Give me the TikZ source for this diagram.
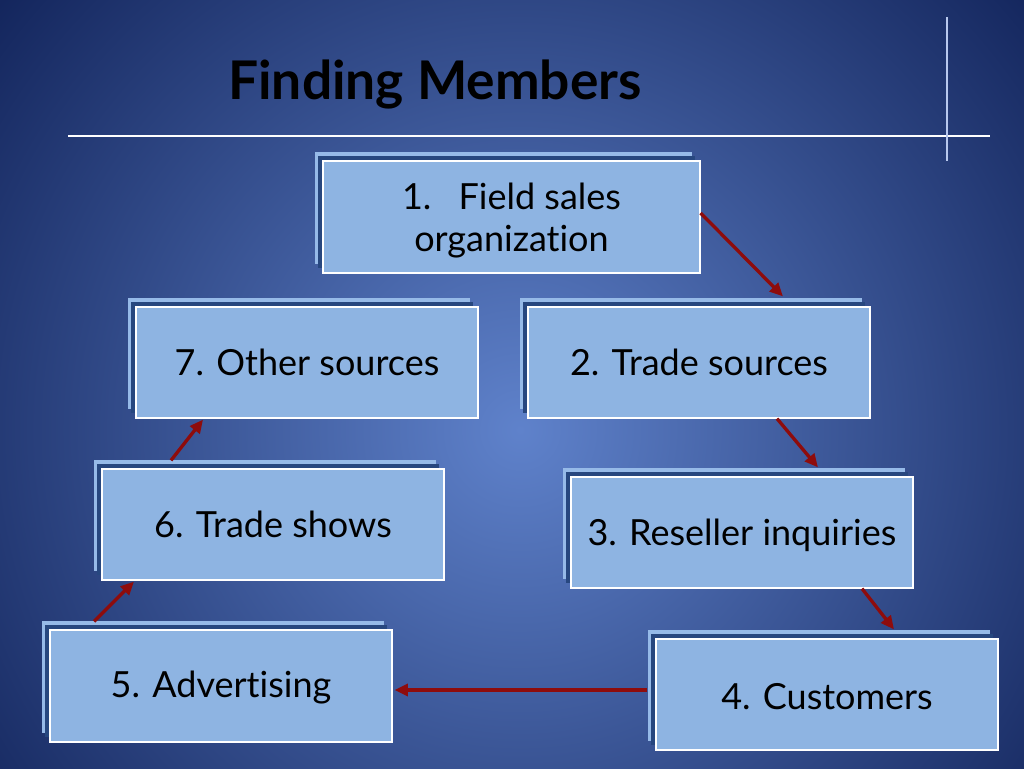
\documentclass[tikz,border=0pt]{standalone}
\usepackage{fontspec}
\setmainfont{Lato}[Ligatures={NoCommon}]
\usetikzlibrary{arrows.meta,calc}
\definecolor{bgin}{HTML}{5F82CB}
\definecolor{bgout}{HTML}{13255C}
\definecolor{boxfill}{HTML}{8EB4E2}
\definecolor{backlight}{HTML}{96BAE8}
\definecolor{backdark}{HTML}{27477F}
\definecolor{arrowred}{HTML}{8E0C0C}
\definecolor{vline}{HTML}{B8C8EE}
\tikzset{
  box/.style={draw=white, line width=0.9pt, fill=boxfill, inner sep=0pt,
    align=center, font=\fontsize{27}{31}\selectfont, text=black},
  flow/.style={draw=arrowred, line width=2.5pt, -{Triangle[length=10pt,width=9pt]}},
  titletext/.style={font=\fontsize{40}{46}\selectfont\bfseries}
}
\newcommand\lowertext[2]{\raisebox{-#1}[\height][\depth]{#2}}
\newcommand\fmbox[6]{%
  \fill[backlight] (#2-8,#3-9) rectangle (#4-8,#5-9);
  \fill[backdark] (#2-5,#3-5) rectangle (#4-5,#5-5);
  \node[box, minimum width={(#4-#2)*0.75pt}, minimum height={(#5-#3)*0.75pt}]
    (#1) at ({(#2+#4)/2},{(#3+#5)/2}) {#6};
}
\begin{document}
\begin{tikzpicture}[x=0.75pt,y=-0.75pt]
\useasboundingbox (0,0) rectangle (1024,768);
\begin{scope}
\clip (0,0) rectangle (1024,768);
\shade[inner color=bgin, outer color=bgout] (-160,-250) rectangle (1200,1110);
\end{scope}
% title and rules
\node[titletext, text=black] (title) at (435,84) {Finding Members};
\draw[white, line width=0.9pt] (68,136) -- (990,136);
\draw[vline, line width=1.1pt] (947,17) -- (947,161);
% boxes
\fmbox{n1}{323}{161}{700}{273}{\lowertext{4pt}{\begin{tabular}{@{}c@{}}1.\enspace\ Field sales\\organization\end{tabular}}}
\fmbox{n2}{528}{307}{870}{418}{2. Trade sources}
\fmbox{n7}{136}{307}{478}{418}{7. Other sources}
\fmbox{n6}{102}{469}{444}{580}{6. Trade shows}
\fmbox{n3}{571}{477}{913}{588}{\lowertext{2pt}{3. Reseller inquiries}}
\fmbox{n5}{50}{630}{392}{742}{\lowertext{1.5pt}{5. Advertising}}
\fmbox{n4}{656}{639}{998}{750}{\lowertext{1.5pt}{4. Customers}}
% connectors
\draw[flow] ($(n1.east)+(0,-4)$) -- ($(n2.north)+(84,-10)$);
\draw[flow] ($(n2.south)+(78,0)$) -- ($(n3.north)+(76,-9)$);
\draw[flow] ($(n3.south)+(120,0)$) -- ($(n4.north)+(67,-9)$);
\draw[flow] ($(n4.west)+(-8,-4.5)$) -- ($(n5.east)+(2,4)$);
\draw[flow] ($(n5.north)+(-127,-8)$) -- ($(n6.south)+(-139,1)$);
\draw[flow] ($(n6.north)+(-102,-8)$) -- ($(n7.south)+(-104,1)$);
\end{tikzpicture}
\end{document}
